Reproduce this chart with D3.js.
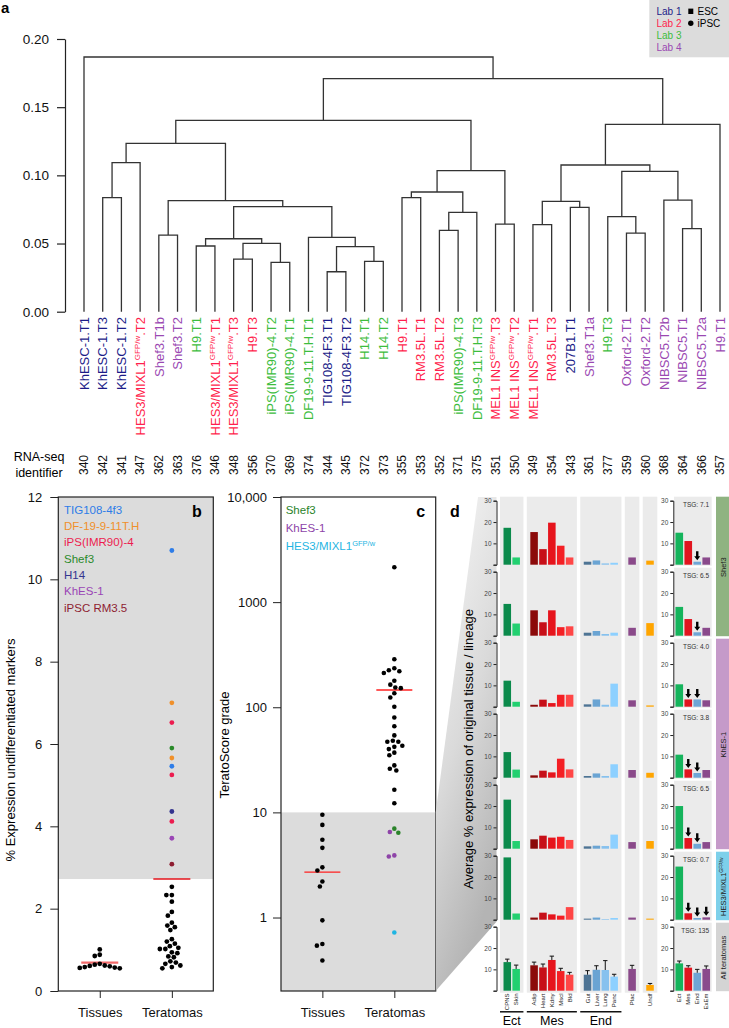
<!DOCTYPE html>
<html><head><meta charset="utf-8">
<script src="https://cdn.jsdelivr.net/npm/d3@7"></script>
<style>
body{margin:0;background:#fff;}
svg{display:block;font-family:"Liberation Sans",Arial,Helvetica,sans-serif;}
</style></head><body>
<svg id="fig" width="729" height="1028"></svg>
<script>
// ================= DATA =================
// Panel a: dendrogram
const leafLabels = ["KhESC-1.T1","KhESC-1.T3","KhESC-1.T2","HES3/MIXL1^{GFP/w}.T2","Shef3.T1b","Shef3.T2","H9.T1",
  "HES3/MIXL1^{GFP/w}.T1","HES3/MIXL1^{GFP/w}.T3","H9.T3","iPS(IMR90)-4.T2","iPS(IMR90)-4.T1","DF19-9-11.T.H.T1",
  "TIG108-4F3.T1","TIG108-4F3.T2","H14.T1","H14.T2","H9.T1","RM3.5L.T1","RM3.5L.T2","iPS(IMR90)-4.T3",
  "DF19-9-11.T.H.T3","MEL1 INS^{GFP/w}.T3","MEL1 INS^{GFP/w}.T2","MEL1 INS^{GFP/w}.T1","RM3.5L.T3","207B1.T1",
  "Shef3.T1a","H9.T3","Oxford-2.T1","Oxford-2.T2","NIBSC5.T2b","NIBSC5.T1","NIBSC5.T2a","H9.T1"];
const leafIds = [340,342,341,347,362,363,376,346,348,356,370,369,374,344,345,372,373,355,353,352,371,375,351,350,349,354,343,361,377,359,360,368,364,366,357];
const leafLabs = [1,1,1,2,4,4,3,2,2,2,3,3,3,1,1,3,3,2,2,2,3,3,2,2,2,2,1,4,3,4,4,4,4,4,4];
// merges: [left, right, height]; negative = leaf (1-based), positive = earlier merge (1-based)
const merges = [
  [-2,-3,0.0836],[1,-4,0.1093],[-5,-6,0.0562],[-7,-8,0.0482],[-9,-10,0.0386],[-11,-12,0.0362],
  [5,6,0.0501],[4,7,0.0535],[-14,-15,0.0293],[-16,-17,0.0369],[9,10,0.0477],[-13,11,0.0545],
  [8,12,0.0770],[3,13,0.0814],[2,14,0.1235],[-18,-19,0.0836],[-20,-21,0.0597],[17,-22,0.0729],
  [16,18,0.0878],[-23,-24,0.0643],[19,20,0.1034],[15,21,0.1403],[-25,-26,0.0638],[-27,-28,0.0765],
  [23,24,0.0809],[-30,-31,0.0577],[-29,26,0.0697],[-33,-34,0.0609],[-32,28,0.0819],[27,29,0.1029],
  [25,30,0.1076],[31,-35,0.1374],[22,32,0.1709],[-1,33,0.1868]];
const dendroTicks = [0,0.05,0.10,0.15,0.20];
const labNames = ["Lab 1","Lab 2","Lab 3","Lab 4"];
const stemTypes = ["ESC","iPSC"];

// Panel b
const groupsBC = ["Tissues","Teratomas"];
const bTicks = [0,2,4,6,8,10,12];
const bTissues = [1.01,0.88,0.85,0.66,0.64,0.62,0.61,0.60,0.58,0.57,0.56,0.55];
const bTeratomasBlack = [2.53,2.33,2.33,2.17,1.92,1.83,1.66,1.59,1.55,1.48,1.26,1.20,1.15,1.09,1.05,1.02,1.02,0.94,0.92,0.84,0.82,0.72,0.69,0.66,0.62,0.58,0.55];
const bColoredVals = [10.7,7.0,6.52,5.9,5.66,5.46,5.25,4.36,4.12,3.71,3.08];
const bColoredLine = ["TIG108-4f3","DF-19-9-11T.H","iPS(IMR90)-4","Shef3","DF-19-9-11T.H","TIG108-4f3","iPS(IMR90)-4","H14","iPS(IMR90)-4","KhES-1","iPSC RM3.5"];
const bLegendNames = ["TIG108-4f3","DF-19-9-11T.H","iPS(IMR90)-4","Shef3","H14","KhES-1","iPSC RM3.5"];
const bMeans = [0.69, 2.72];
const bThreshold = 2.72;

// Panel c
const cTickValues = [1,10,100,1000,10000];
const cTickLabels = ["1","10","100","1000","10,000"];
const cTissues = [9.5,7.6,5.5,4.6,3.0,2.8,2.2,1.97,0.94,0.56,0.54,0.39];
const cTeratomasBlack = [2150,286,235,225,220,212,179,164,154,152,136,124,101,80,66,54,48,47,47,43,42,40,37,35,28,26,25,16.4,12.2];
const cColoredVals = [7.0,6.4,6.5,3.9,3.8,0.72];
const cColoredLine = ["Shef3","Shef3","KhES-1","KhES-1","KhES-1","HES3/MIXL1^{GFP/w}"];
const cLegendNames = ["Shef3","KhES-1","HES3/MIXL1^{GFP/w}"];
const cMeans = [2.7, 146];
const cThreshold = 10;

// Panel d
const tissueCats = ["CPNS","Skin","Adip","Heart","Kdny","Mscl","Bld","Gut","Liver","Lung","Panc","Plac","Undf"];
const tissueGroups = ["Ect","Ect","Mes","Mes","Mes","Mes","Mes","End","End","End","End","Plac","Undf"];
const labeledGroups = ["Ect","Mes","End"];
const lineageCats = ["Ect","Mes","End","ExEm"];
const dTicks = [0,10,20,30];
const rowTSG = ["7.1","6.5","4.0","3.8","6.5","0.7","135"];
const tissueRows = [
  [17.3,3.4,15.3,7.3,19.7,8.9,3.4,1.4,2.0,0.6,0.9,3.4,1.9],
  [14.9,5.7,11.9,6.3,11.9,4.0,4.4,1.4,2.2,0.8,1.4,3.7,5.9],
  [12.2,2.3,0.9,3.3,1.7,5.6,5.6,1.1,3.4,0.9,10.8,3.0,0.6],
  [12.0,3.8,1.1,3.3,2.5,8.9,3.9,0.8,2.0,0.8,6.3,3.6,2.3],
  [23.0,3.6,4.4,6.1,5.2,5.6,4.1,1.1,1.4,1.25,6.6,3.1,3.6],
  [29.2,2.9,1.0,3.3,2.5,1.9,5.9,0.5,1.0,0.3,0.8,1.0,0.5],
  [13.4,10.2,11.9,10.9,14.4,9.2,7.5,7.5,9.8,9.7,6.6,10.2,2.7]];
const tissueErrAll = [1.4,1.8,1.5,1.6,1.8,1.3,1.1,1.9,1.9,4.4,1.1,1.7,0.7];
const lineageRows = [
  [15.0,11.1,1.4,3.4],
  [13.5,7.8,1.6,3.7],
  [10.5,3.4,3.4,3.0],
  [10.8,3.9,2.2,3.6],
  [20.0,5.0,2.3,3.1],
  [24.9,3.0,0.8,1.1],
  [12.8,10.8,8.4,10.2]];
const lineageErrAll = [1.1,0.9,1.6,1.4];
const lineageDown = [[0,0,1,0],[0,0,1,0],[0,1,1,0],[0,1,1,0],[0,1,1,0],[0,1,1,1],[0,0,0,0]];
const stripNames = ["Shef3","KhES-1","HES3/MIXL1^{GFP/w}","All teratomas"];
const stripFirstRow = [0,2,5,6];
const stripLastRow = [1,4,5,6];

// ================= STYLE =================
const labColors = {1:"#1c1c88",2:"#ff1f4d",3:"#3dbd3d",4:"#9a48b2"};
const bLineColors = {"TIG108-4f3":"#2e7de8","DF-19-9-11T.H":"#f0902a","iPS(IMR90)-4":"#ec1c4f","Shef3":"#2a8a2a","H14":"#34348f","KhES-1":"#9a45b5","iPSC RM3.5":"#8e1d31"};
const cLineColors = {"Shef3":"#2a832a","KhES-1":"#8e44a8","HES3/MIXL1^{GFP/w}":"#1fb5e2"};
const tissueColors = {"CPNS":"#0b8a4b","Skin":"#22d070","Adip":"#8b0a0a","Heart":"#c70f18","Kdny":"#e6141c","Mscl":"#f41f24","Bld":"#ff4646","Gut":"#4e7494","Liver":"#6aa4d3","Lung":"#86c1ee","Panc":"#8dd0ff","Plac":"#8a4a8a","Undf":"#ffa500"};
const lineageColors = {"Ect":"#15b45c","Mes":"#e1151f","End":"#6fa6d6","ExEm":"#8a4a8c"};
const stripColors = ["#8fb381","#c59ac9","#7dd0ea","#d4d4d4"];
const FONT = '"Liberation Sans",Arial,Helvetica,sans-serif';

const svg = d3.select("#fig");

function rich(sel, str, supSize, shift){
  const parts = str.split(/\^\{(.*?)\}/);
  parts.forEach((p,i)=>{
    if(!p) return;
    const t = sel.append("tspan").text(p);
    if(i%2===1){ t.attr("font-size",supSize).attr("dy",-shift); }
    else if(i>0){ t.attr("dy",shift); }
  });
  return sel;
}
function styleAxis(g, fs, color){
  g.attr("font-family",FONT).attr("font-size",fs);
  g.selectAll("text").attr("fill",color||"#111");
  g.selectAll("line,path").attr("stroke","#222");
}
function swarm(items, cx, dist){
  const order = items.slice().sort((a,b)=>a.y-b.y);
  const placed=[];
  order.forEach(p=>{
    for(let k=0;k<400;k++){
      const off=(k%2?-1:1)*Math.ceil(k/2)*0.5;
      const x=cx+off;
      if(placed.every(q=>(q.x-x)*(q.x-x)+(q.y-p.y)*(q.y-p.y)>=dist*dist)){p.x=x;break;}
    }
    placed.push(p);
  });
  return items;
}
function panelLetter(t,x,y){
  svg.append("text").attr("x",x).attr("y",y).attr("font-size",16).attr("font-weight","bold")
    .attr("text-anchor","middle").text(t);
}

// ================= PANEL A =================
svg.append("text").attr("x",1).attr("y",13).attr("font-size",15).attr("font-weight","bold").text("a");

// legend box
const lg = svg.append("g");
lg.append("rect").attr("x",649.3).attr("y",0).attr("width",80).attr("height",57.3).attr("fill","#dcdcdc");
labNames.forEach((n,i)=>{
  lg.append("text").attr("x",656.5).attr("y",15+i*11.9).attr("font-size",10).attr("fill",labColors[i+1]).text(n);
});
lg.append("rect").attr("x",688.3).attr("y",8.6).attr("width",5).attr("height",5.4).attr("fill","#000");
lg.append("circle").attr("cx",690.8).attr("cy",23.3).attr("r",2.7).attr("fill","#000");
stemTypes.forEach((n,i)=>{
  lg.append("text").attr("x",697.5).attr("y",15+i*11.9).attr("font-size",10).attr("fill","#000").text(n);
});

const xLeaf = d3.scalePoint().domain(d3.range(leafLabels.length)).range([84,720]);
const yD = d3.scaleLinear().domain([0,0.2]).range([311.7,39]);
const nodes = [];
function nodeOf(ref){ return ref<0 ? {x:xLeaf(-ref-1),h:0} : nodes[ref-1]; }
const dg = svg.append("g").attr("fill","none").attr("stroke","#333").attr("stroke-width",1.3);
merges.forEach(m=>{
  const l=nodeOf(m[0]), r=nodeOf(m[1]);
  nodes.push({x:(l.x+r.x)/2,h:m[2]});
  dg.append("path").attr("d",`M${l.x},${yD(l.h)}V${yD(m[2])}H${r.x}V${yD(r.h)}`);
});
const ax = svg.append("g").attr("transform","translate(65,0)")
  .call(d3.axisLeft(yD).tickValues(dendroTicks).tickFormat(d3.format(".2f")).tickSize(8).tickPadding(8).tickSizeOuter(0));
styleAxis(ax,13.5);
ax.selectAll("line,path").attr("stroke-width",1.2);

leafLabels.forEach((lab,i)=>{
  const t = svg.append("text").attr("transform",`translate(${xLeaf(i)},317) rotate(-90)`)
    .attr("text-anchor","end").attr("dy","0.36em").attr("font-size",13).attr("fill",labColors[leafLabs[i]]);
  rich(t, lab, 8, 5);
  svg.append("text").attr("transform",`translate(${xLeaf(i)},465) rotate(-90)`)
    .attr("text-anchor","middle").attr("dy","0.36em").attr("font-size",12).attr("fill","#111").text(leafIds[i]);
});
svg.append("text").attr("x",39).attr("y",461).attr("text-anchor","middle").attr("font-size",12.5).text("RNA-seq");
svg.append("text").attr("x",39).attr("y",476.5).attr("text-anchor","middle").attr("font-size",12.5).text("identifier");

// ================= PANEL B =================
const bX = d3.scalePoint().domain(groupsBC).range([58.3,213.3]).padding(0.575);
const bY = d3.scaleLinear().domain([0,12]).range([991,497]);
svg.append("rect").attr("x",58.3).attr("y",bY(12)).attr("width",155).attr("height",bY(bThreshold)-bY(12)).attr("fill","#dcdcdc");
svg.append("rect").attr("x",58.3).attr("y",497).attr("width",155).attr("height",494).attr("fill","none").attr("stroke","#222").attr("stroke-width",1.2);
const bAx = svg.append("g").attr("transform","translate(58.3,0)")
  .call(d3.axisLeft(bY).tickValues(bTicks).tickSize(8).tickPadding(8).tickSizeOuter(0));
styleAxis(bAx,13); bAx.select(".domain").remove();
const bAxX = svg.append("g").attr("transform","translate(0,991)")
  .call(d3.axisBottom(bX).tickSize(7).tickPadding(10).tickSizeOuter(0));
styleAxis(bAxX,13); bAxX.select(".domain").remove();
svg.append("text").attr("transform","translate(15,750) rotate(-90)").attr("text-anchor","middle")
  .attr("font-size",13).text("% Expression undifferentiated markers");
bLegendNames.forEach((n,i)=>{
  svg.append("text").attr("x",64).attr("y",513.5+i*16.35).attr("font-size",11.5).attr("fill",bLineColors[n]).text(n);
});
panelLetter("b",197,517);
// means
[[0,"#f26a6a",2.2],[1,"#e4141c",1.5]].forEach(([k,c,w])=>{
  const cx=bX(groupsBC[k]);
  svg.append("line").attr("x1",cx-18.5).attr("x2",cx+18.5).attr("y1",bY(bMeans[k])).attr("y2",bY(bMeans[k]))
    .attr("stroke",c).attr("stroke-width",w);
});
const bTis = swarm(bTissues.map(v=>({v,y:bY(v),c:"#000"})), bX("Tissues"), 4.8);
const bTer = swarm(bTeratomasBlack.map(v=>({v,y:bY(v),c:"#000"}))
  .concat(bColoredVals.map((v,i)=>({v,y:bY(v),c:bLineColors[bColoredLine[i]]}))), bX("Teratomas"), 5.2);
svg.append("g").selectAll("circle").data(bTis.concat(bTer)).join("circle")
  .attr("cx",d=>d.x).attr("cy",d=>d.y).attr("r",2.4).attr("fill",d=>d.c);

// ================= PANEL C =================
const cX = d3.scalePoint().domain(groupsBC).range([281,435.7]).padding(0.575);
const cY = d3.scaleLog().domain([0.2,10000]).range([991,497]);
svg.append("rect").attr("x",281).attr("y",cY(cThreshold)).attr("width",154.7).attr("height",991-cY(cThreshold)).attr("fill","#dcdcdc");
svg.append("rect").attr("x",281).attr("y",497).attr("width",154.7).attr("height",494).attr("fill","none").attr("stroke","#222").attr("stroke-width",1.2);
const cAx = svg.append("g").attr("transform","translate(281,0)")
  .call(d3.axisLeft(cY).tickValues(cTickValues).tickFormat((v,i)=>cTickLabels[i]).tickSize(8).tickPadding(6).tickSizeOuter(0));
styleAxis(cAx,13); cAx.select(".domain").remove();
const cAxX = svg.append("g").attr("transform","translate(0,991)")
  .call(d3.axisBottom(cX).tickSize(7).tickPadding(10).tickSizeOuter(0));
styleAxis(cAxX,13); cAxX.select(".domain").remove();
svg.append("text").attr("transform","translate(229,745) rotate(-90)").attr("text-anchor","middle")
  .attr("font-size",13).text("TeratoScore grade");
cLegendNames.forEach((n,i)=>{
  const t = svg.append("text").attr("x",285.7).attr("y",514+i*18).attr("font-size",11.5).attr("fill",cLineColors[n]);
  rich(t,n,7.5,4.5);
});
panelLetter("c",420.7,517);
groupsBC.forEach((g,k)=>{
  const cx=cX(g);
  svg.append("line").attr("x1",cx-18).attr("x2",cx+18).attr("y1",cY(cMeans[k])).attr("y2",cY(cMeans[k]))
    .attr("stroke","#ff2020").attr("stroke-width",1.4);
});
const cTis = swarm(cTissues.map(v=>({v,y:cY(v),c:"#000"})), cX("Tissues"), 5.5);
const cTer = swarm(cTeratomasBlack.map(v=>({v,y:cY(v),c:"#000"}))
  .concat(cColoredVals.map((v,i)=>({v,y:cY(v),c:cLineColors[cColoredLine[i]]}))), cX("Teratomas"), 5.5);
svg.append("g").selectAll("circle").data(cTis.concat(cTer)).join("circle")
  .attr("cx",d=>d.x).attr("cy",d=>d.y).attr("r",2.3).attr("fill",d=>d.c);

// ================= PANEL D =================
const rowTop0 = 500.7, rowPitch = 71, rowH = 64;
const rowTop = r => rowTop0 + r*rowPitch;
const nRows = tissueRows.length;
const defs = svg.append("defs");
const grad = defs.append("linearGradient").attr("id","wedge").attr("x1",0).attr("y1",0).attr("x2",0.35).attr("y2",1);
grad.append("stop").attr("offset",0).attr("stop-color","#f8f8f8");
grad.append("stop").attr("offset",0.55).attr("stop-color","#dadada");
grad.append("stop").attr("offset",1).attr("stop-color","#b4b4b4");
const axD = 496.5;
svg.append("path").attr("d",`M435.7,${cY(cThreshold)}L478,497L${axD},497L${axD},${rowTop(5)+rowH+2}L435.7,991Z`)
  .attr("fill","url(#wedge)");
panelLetter("d",455,517);
svg.append("text").attr("transform","translate(473,749) rotate(-90)").attr("text-anchor","middle")
  .attr("font-size",13).text("Average % expression of original tissue / lineage");

// left chart x layout (units)
const pad=0.32, gap=0.38;
const barU=[]; const grpU={}; let u=0, prev=null;
tissueCats.forEach((c,i)=>{
  const g=tissueGroups[i];
  if(g!==prev){ if(prev!==null){ u+=pad; grpU[prev].end=u; u+=gap; } grpU[g]={start:u}; u+=pad; prev=g; }
  barU.push(u+0.5); u+=1;
});
u+=pad; grpU[prev].end=u;
const ux = d3.scaleLinear().domain([0,u]).range([500,657.3]);
const bw = ux(0.85)-ux(0);
const yTopAll = rowTop(0)-4, yBotAll = rowTop(nRows-1)+rowH+2;
Object.keys(grpU).forEach(g=>{
  svg.append("rect").attr("x",ux(grpU[g].start)).attr("width",ux(grpU[g].end)-ux(grpU[g].start))
    .attr("y",yTopAll).attr("height",yBotAll-yTopAll).attr("fill","#ebebeb");
});
const rx = d3.scaleBand().domain(lineageCats).range([675,710.5]).paddingInner(0.15).paddingOuter(0.05);

function arrow(g,cx,tip){
  g.append("path").attr("d",`M${cx-1.2},${tip-9}H${cx+1.2}V${tip-4}H${cx+3}L${cx},${tip}L${cx-3},${tip-4}H${cx-1.2}Z`).attr("fill","#000");
}

tissueRows.forEach((vals,r)=>{
  const top=rowTop(r);
  const y=d3.scaleLinear().domain([0,30]).range([top+rowH,top]);
  const g=svg.append("g");
  // right chart background
  g.append("rect").attr("x",674).attr("y",top-4).attr("width",37.7).attr("height",69).attr("fill","#ebebeb");
  // left bars
  vals.forEach((v,i)=>{
    const cx=ux(barU[i]);
    g.append("rect").attr("x",cx-bw/2).attr("width",bw).attr("y",y(v)).attr("height",y(0)-y(v)).attr("fill",tissueColors[tissueCats[i]]);
  });
  // right bars
  lineageRows[r].forEach((v,i)=>{
    g.append("rect").attr("x",rx(lineageCats[i])).attr("width",rx.bandwidth()).attr("y",y(v)).attr("height",y(0)-y(v))
      .attr("fill",lineageColors[lineageCats[i]]);
    if(lineageDown[r][i]) arrow(g, rx(lineageCats[i])+rx.bandwidth()/2, y(v)-1.5);
  });
  if(r===nRows-1){
    const eb=(cx,v,e)=>{
      g.append("path").attr("d",`M${cx},${y(v)}V${y(v+e)}M${cx-2.2},${y(v+e)}H${cx+2.2}`).attr("stroke","#111").attr("stroke-width",1).attr("fill","none");
    };
    vals.forEach((v,i)=>eb(ux(barU[i]),v,tissueErrAll[i]));
    lineageRows[r].forEach((v,i)=>eb(rx(lineageCats[i])+rx.bandwidth()/2,v,lineageErrAll[i]));
  }
  // axes
  [axD,673.3].forEach(xa=>{
    const a=g.append("g").attr("transform",`translate(${xa},0)`)
      .call(d3.axisLeft(y).tickValues(dTicks).tickSize(3).tickPadding(2).tickFormat(v=>v===0?"":v));
    styleAxis(a,6.5,"#444"); a.selectAll("line,path").attr("stroke-width",1);
  });
  g.append("text").attr("x",709).attr("y",top+6).attr("text-anchor","end").attr("font-size",6.5).attr("fill","#333")
    .text("TSG: "+rowTSG[r]);
});

// strips
stripNames.forEach((n,k)=>{
  const y0=rowTop(stripFirstRow[k])-4, y1=rowTop(stripLastRow[k])+rowH+2;
  svg.append("rect").attr("x",716).attr("y",y0).attr("width",14).attr("height",y1-y0-1.5).attr("fill",stripColors[k]);
  const t=svg.append("text").attr("transform",`translate(723,${(y0+y1)/2}) rotate(-90)`).attr("text-anchor","middle")
    .attr("dy","0.35em").attr("font-size",7.5).attr("fill","#222");
  rich(t,n,5,3);
});

// bottom labels
const labY = yBotAll+0.8;
tissueCats.forEach((c,i)=>{
  svg.append("text").attr("transform",`translate(${ux(barU[i])},${labY}) rotate(-90)`).attr("text-anchor","end")
    .attr("dy","0.35em").attr("font-size",6).attr("fill","#222").text(c);
});
lineageCats.forEach(c=>{
  svg.append("text").attr("transform",`translate(${rx(c)+rx.bandwidth()/2},${labY}) rotate(-90)`).attr("text-anchor","end")
    .attr("dy","0.35em").attr("font-size",6).attr("fill","#222").text(c);
});
labeledGroups.forEach(gn=>{
  const x0=ux(grpU[gn].start), x1=ux(grpU[gn].end);
  svg.append("line").attr("x1",x0).attr("x2",x1).attr("y1",1011.8).attr("y2",1011.8).attr("stroke","#111").attr("stroke-width",1.5);
  svg.append("text").attr("x",(x0+x1)/2).attr("y",1024.5).attr("text-anchor","middle").attr("font-size",12.5).text(gn);
});
</script>
</body></html>
